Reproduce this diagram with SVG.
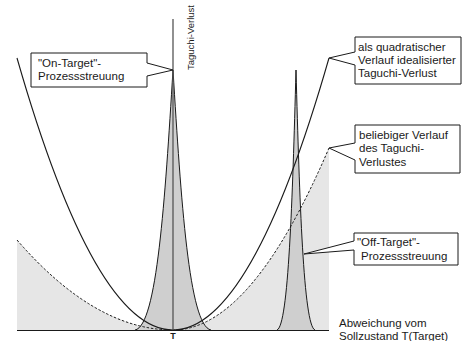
<svg xmlns="http://www.w3.org/2000/svg" width="464" height="341" viewBox="0 0 464 341">
<style>
  .lbl { font-family: "Liberation Sans", Arial, sans-serif; font-size: 11.5px; fill: #1a1a1a; }
  .box { fill: #ffffff; stroke: #1a1a1a; stroke-width: 1; }
  .spike { fill: #cfcfcf; stroke: #1a1a1a; stroke-width: 1; }
  .curve { fill: none; stroke: #1a1a1a; stroke-width: 1.1; }
  .dash { fill: none; stroke: #1a1a1a; stroke-width: 1; stroke-dasharray: 2.5 1.8; }
</style>
<rect width="464" height="341" fill="#ffffff"/>
<g id="area">
  <path d="M17,330 L17,240 Q95,330 173,330 Q251,330 329,148 L329,330 Z" fill="#e6e6e6"/>
</g>
<g id="on-target-spike">
  <path class="spike" d="M135,330 C157,326 165,200 173,70 C181,200 189,326 211,330"/>
</g>
<g id="off-target-spike">
  <path class="spike" d="M277,330 C288.5,326 292.5,200 296,70 C299.5,200 303.5,326 315,330"/>
</g>
<g id="connectors">
  <path class="curve" d="M17,58 Q95,330 173,330 Q251,330 329,58"/>
  <path class="dash" d="M17,240 Q95,330 173,330 Q251,330 329,148"/>
  <line x1="173" y1="19" x2="173" y2="330" stroke="#555555" stroke-width="1.3"/>
  <line x1="17" y1="330.5" x2="329" y2="330.5" stroke="#1a1a1a" stroke-width="1.2"/>
</g>
<g id="axis-labels">
  <text class="lbl" style="font-size:9.5px" transform="translate(194,70) rotate(-90)">Taguchi-Verlust</text>
  <text class="lbl" x="339" y="327">Abweichung vom</text>
  <text class="lbl" x="339" y="340">Sollzustand T(Target)</text>
  <text class="lbl" x="173" y="339" text-anchor="middle" font-weight="bold" style="font-size:9px">T</text>
</g>
<g id="box-on-target">
  <path class="box" d="M31,53 H147 V63 L173,70 L147,76 V87 H31 Z"/>
  <text class="lbl" x="38" y="67">"On-Target"-</text>
  <text class="lbl" x="38" y="80">Prozessstreuung</text>
</g>
<g id="box-quadratic">
  <path class="box" d="M355,37 H461 V84 H355 V65 L329,58 L355,52 Z"/>
  <text class="lbl" x="358" y="51">als quadratischer</text>
  <text class="lbl" x="358" y="64">Verlauf idealisierter</text>
  <text class="lbl" x="358" y="77">Taguchi-Verlust</text>
</g>
<g id="box-arbitrary">
  <path class="box" d="M355,125 H460 V173 H355 V160 L329,148 L355,143 Z"/>
  <text class="lbl" x="359" y="139">beliebiger Verlauf</text>
  <text class="lbl" x="359" y="152">des Taguchi-</text>
  <text class="lbl" x="359" y="166">Verlustes</text>
</g>
<g id="box-off-target">
  <path class="box" d="M354,233 H458 V265 H354 V250 L304,254 L354,241 Z"/>
  <text class="lbl" x="357" y="246">"Off-Target"-</text>
  <text class="lbl" x="361" y="260">Prozessstreuung</text>
</g>
</svg>
